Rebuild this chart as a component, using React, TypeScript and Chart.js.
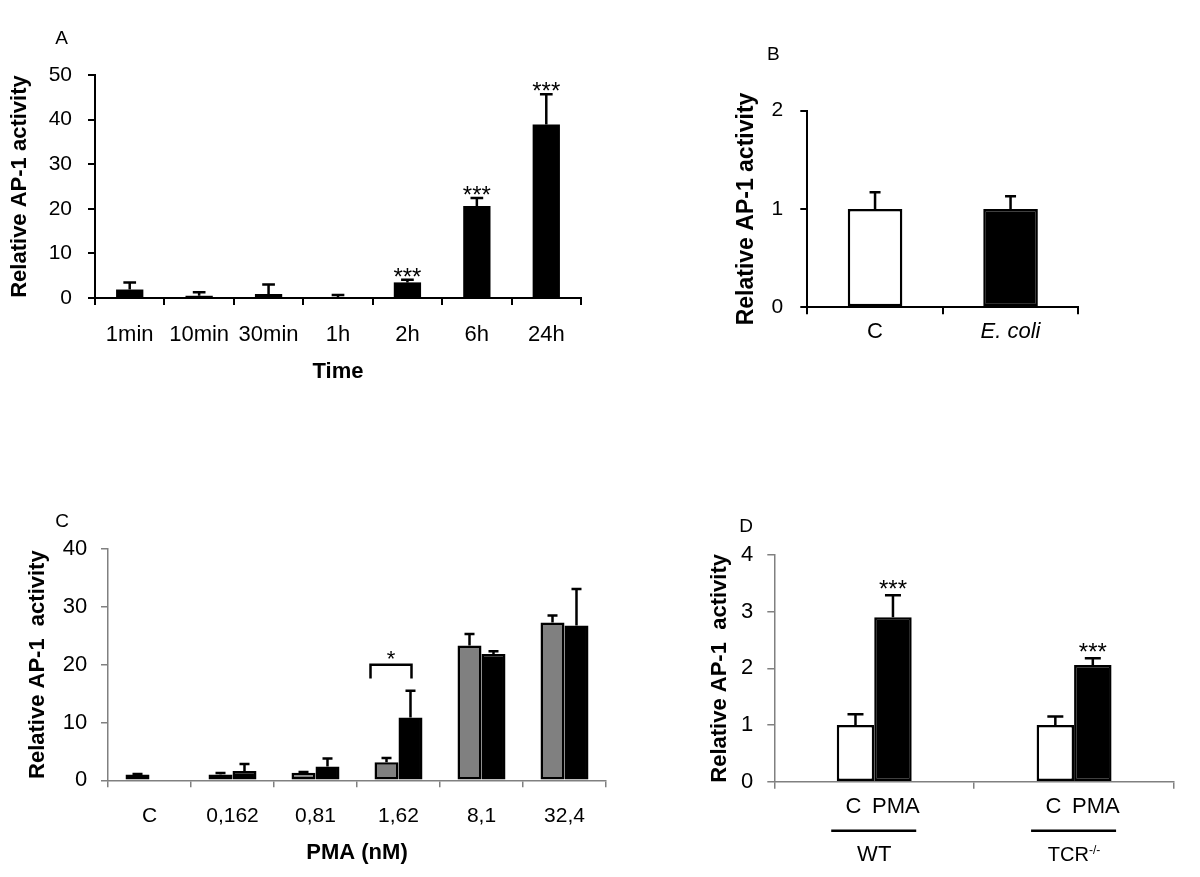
import React, { useEffect, useRef } from 'react';
import { Chart, registerables } from 'chart.js';

Chart.register(...registerables);

const FONT = "'Liberation Sans', Arial, Helvetica, sans-serif";

// ---------- Panel A : time course ----------
const timeLabels = ['1min', '10min', '30min', '1h', '2h', '6h', '24h'];
const timeValues = [1.9, 0.5, 0.9, 0.2, 3.5, 20.6, 38.9];
const timeErrors = [1.6, 0.8, 2.1, 0.5, 0.6, 1.8, 6.8];
const timeStars = ['', '', '', '', '***', '***', '***'];

// ---------- Panel B : E. coli ----------
const ecoliLabels = ['C', 'E. coli'];
const ecoliItalic = [false, true];
const ecoliValues = [1.0, 1.0];
const ecoliErrors = [0.17, 0.13];

// ---------- Panel C : PMA dose ----------
const pmaLabels = ['C', '0,162', '0,81', '1,62', '8,1', '32,4'];
const pmaGrey = [1.0, 1.0, 1.3, 3.1, 23.3, 27.3];
const pmaGreyErrors = [0.1, 0.25, 0.15, 0.75, 2.0, 1.2];
const pmaBlack = [null, 1.6, 2.4, 10.85, 21.85, 26.75];
const pmaBlackErrors = [null, 1.2, 1.35, 4.65, 0.45, 6.35];
const pmaBracketIndex = 3;
const pmaBracketTop = 20;
const pmaBracketLeg = 17.6;
const pmaBracketLabel = '*';
const pmaBracketLabelY = 22;

// ---------- Panel D : WT vs TCR-/- ----------
const dGroups = ['WT', 'TCR'];
const dGroupSup = ['', '-/-'];
const dSeriesNames = ['C', 'PMA'];
const dControl = [1.0, 1.0];
const dControlErrors = [0.19, 0.15];
const dPma = [2.9, 2.06];
const dPmaErrors = [0.39, 0.12];
const dPmaStars = ['***', '***'];

const GREY = '#808080';

const errorBarPlugin = {
  id: 'errorBars',
  afterDatasetsDraw(chart: any, _args: any, opts: any) {
    const ctx = chart.ctx;
    const ys = chart.scales.y;
    chart.data.datasets.forEach((ds: any, di: number) => {
      if (!ds.errors) return;
      const meta = chart.getDatasetMeta(di);
      meta.data.forEach((bar: any, i: number) => {
        const v = ds.data[i];
        const e = ds.errors[i];
        if (v == null || e == null) return;
        const yBar = ys.getPixelForValue(v);
        const yTop = ys.getPixelForValue(v + e);
        ctx.save();
        ctx.strokeStyle = '#000';
        ctx.lineWidth = opts.lineWidth;
        ctx.beginPath();
        ctx.moveTo(bar.x, yBar);
        ctx.lineTo(bar.x, yTop);
        ctx.moveTo(bar.x - opts.cap / 2, yTop);
        ctx.lineTo(bar.x + opts.cap / 2, yTop);
        ctx.stroke();
        if (ds.stars && ds.stars[i]) {
          ctx.fillStyle = '#000';
          ctx.font = `${opts.starSize}px ${FONT}`;
          ctx.textAlign = 'center';
          ctx.textBaseline = 'alphabetic';
          ctx.fillText(ds.stars[i], bar.x, yTop - opts.starGap + opts.starSize * 0.58);
        }
        ctx.restore();
      });
    });
  },
};

const letterPlugin = {
  id: 'panelLetter',
  afterDraw(chart: any, _args: any, opts: any) {
    const ctx = chart.ctx;
    ctx.save();
    ctx.fillStyle = '#000';
    ctx.font = `${opts.size}px ${FONT}`;
    ctx.textAlign = 'center';
    ctx.textBaseline = 'middle';
    ctx.fillText(opts.text, opts.x, opts.y);
    ctx.restore();
  },
};

const bracketPlugin = {
  id: 'bracket',
  afterDatasetsDraw(chart: any) {
    const ctx = chart.ctx;
    const ys = chart.scales.y;
    const b0 = chart.getDatasetMeta(0).data[pmaBracketIndex];
    const b1 = chart.getDatasetMeta(1).data[pmaBracketIndex];
    const xl = b0.x - b0.width / 2 - 4;
    const xr = b1.x + 1;
    const yt = ys.getPixelForValue(pmaBracketTop);
    const yl = ys.getPixelForValue(pmaBracketLeg);
    ctx.save();
    ctx.strokeStyle = '#000';
    ctx.lineWidth = 2.5;
    ctx.beginPath();
    ctx.moveTo(xl, yl);
    ctx.lineTo(xl, yt);
    ctx.lineTo(xr, yt);
    ctx.lineTo(xr, yl);
    ctx.stroke();
    ctx.fillStyle = '#000';
    ctx.font = `22px ${FONT}`;
    ctx.textAlign = 'center';
    ctx.textBaseline = 'alphabetic';
    ctx.fillText(pmaBracketLabel, (xl + xr) / 2, ys.getPixelForValue(pmaBracketLabelY) + 22 * 0.58);
    ctx.restore();
  },
};

const groupLabelPlugin = {
  id: 'groupLabels',
  afterDraw(chart: any) {
    const ctx = chart.ctx;
    const xs = chart.scales.x;
    const y0 = chart.chartArea.bottom;
    ctx.save();
    ctx.fillStyle = '#000';
    ctx.strokeStyle = '#000';
    dGroups.forEach((g, i) => {
      const m0 = chart.getDatasetMeta(0).data[i];
      const m1 = chart.getDatasetMeta(1).data[i];
      ctx.font = `22px ${FONT}`;
      ctx.textAlign = 'center';
      ctx.textBaseline = 'middle';
      ctx.fillText(dSeriesNames[0], m0.x - 2, y0 + 25);
      ctx.fillText(dSeriesNames[1], m1.x + 3, y0 + 25);
      const cx = xs.getPixelForValue(i);
      ctx.lineWidth = 2.5;
      ctx.beginPath();
      ctx.moveTo(cx - 43, y0 + 49);
      ctx.lineTo(cx + 42, y0 + 49);
      ctx.stroke();
      const sup = dGroupSup[i];
      const mainSize = sup ? 20 : 22;
      ctx.font = `${mainSize}px ${FONT}`;
      const wMain = ctx.measureText(g).width;
      ctx.font = `12px ${FONT}`;
      const wSup = sup ? ctx.measureText(sup).width : 0;
      const startX = cx - (wMain + wSup) / 2;
      ctx.textAlign = 'left';
      ctx.textBaseline = 'alphabetic';
      const base = y0 + 71.6 + mainSize * 0.36;
      ctx.font = `${mainSize}px ${FONT}`;
      ctx.fillText(g, startX, base);
      if (sup) {
        ctx.font = `12px ${FONT}`;
        ctx.fillText(sup, startX + wMain, base - 7);
      }
    });
    ctx.restore();
  },
};

function yAxis(o: any) {
  return {
    min: o.min,
    max: o.max,
    ticks: { stepSize: o.step, color: '#000', padding: o.tickPad, font: { family: FONT, size: o.tickSize } },
    grid: { drawOnChartArea: false, drawTicks: true, tickLength: 7, color: o.color, lineWidth: o.lw },
    border: { color: o.color, width: o.lw },
    title: {
      display: true,
      text: o.title,
      color: '#000',
      font: { family: FONT, size: o.titleSize, weight: 'bold', lineHeight: 1 },
      padding: { top: o.titlePad, bottom: 0 },
    },
    afterFit(s: any) {
      s.width = o.width;
    },
  };
}

function xAxis(o: any) {
  return {
    type: 'category',
    offset: true,
    ticks: {
      display: o.showTicks !== false,
      color: '#000',
      padding: o.tickPad,
      autoSkip: false,
      maxRotation: 0,
      font: o.font,
    },
    grid: { offset: true, drawOnChartArea: false, drawTicks: true, tickLength: 7, color: o.color, lineWidth: o.lw },
    border: { color: o.color, width: o.lw },
    title: o.title
      ? {
          display: true,
          text: o.title,
          color: '#000',
          font: { family: FONT, size: 22, weight: 'bold', lineHeight: 1 },
          padding: { top: 0, bottom: o.titlePad },
        }
      : { display: false },
    afterFit(s: any) {
      s.height = o.height;
    },
  };
}

function baseOptions(padding: any, extraPlugins: any) {
  return {
    responsive: false,
    maintainAspectRatio: false,
    devicePixelRatio: 1,
    animation: false,
    layout: { padding },
    plugins: { legend: { display: false }, tooltip: { enabled: false }, ...extraPlugins },
  };
}

const panels = [
  {
    box: { x: 0, y: 20, w: 600, h: 370 },
    make: () => ({
      type: 'bar',
      data: {
        labels: timeLabels,
        datasets: [
          {
            data: timeValues,
            errors: timeErrors,
            stars: timeStars,
            backgroundColor: '#000',
            borderWidth: 0,
            barPercentage: 0.393,
            categoryPercentage: 1,
          },
        ],
      },
      options: {
        ...baseOptions({ left: 0, top: 55, right: 19, bottom: 0 }, {
          errorBars: { lineWidth: 2.5, cap: 12.7, starSize: 24, starGap: 9 },
          panelLetter: { text: 'A', x: 61.7, y: 18.3, size: 19 },
        }),
        scales: {
          x: xAxis({ height: 92, tickPad: 16.8, color: '#000', lw: 2, font: { family: FONT, size: 22 }, title: 'Time', titlePad: 7 }),
          y: yAxis({ min: 0, max: 50, step: 10, tickPad: 16, tickSize: 21, color: '#000', lw: 2, title: 'Relative AP-1 activity', titleSize: 22, titlePad: 9, width: 95 }),
        },
      },
      plugins: [errorBarPlugin, letterPlugin],
    }),
  },
  {
    box: { x: 690, y: 40, w: 420, h: 330 },
    make: () => ({
      type: 'bar',
      data: {
        labels: ecoliLabels,
        datasets: [
          {
            data: ecoliValues,
            errors: ecoliErrors,
            backgroundColor: ['#ffffff', '#000000'],
            borderColor: '#000',
            borderWidth: 2.5,
            borderSkipped: false,
            barPercentage: 0.403,
            categoryPercentage: 1,
          },
        ],
      },
      options: {
        ...baseOptions({ left: 0, top: 70.7, right: 31.7, bottom: 0 }, {
          errorBars: { lineWidth: 2.5, cap: 11, starSize: 24, starGap: 9 },
          panelLetter: { text: 'B', x: 83.3, y: 15, size: 19 },
        }),
        scales: {
          x: xAxis({
            height: 62.7,
            tickPad: 4.2,
            color: '#000',
            lw: 2,
            font: (c: any) => ({ family: FONT, size: 22, style: ecoliItalic[c.index] ? 'italic' : 'normal' }),
          }),
          y: yAxis({ min: 0, max: 2, step: 1, tickPad: 17, tickSize: 21, color: '#000', lw: 2, title: 'Relative AP-1 activity', titleSize: 23, titlePad: 45.2, width: 117.3 }),
        },
      },
      plugins: [errorBarPlugin, letterPlugin],
    }),
  },
  {
    box: { x: 0, y: 500, w: 640, h: 377 },
    make: () => ({
      type: 'bar',
      data: {
        labels: pmaLabels,
        datasets: [
          {
            data: pmaGrey,
            errors: pmaGreyErrors,
            backgroundColor: pmaLabels.map((_, i) => (i === 0 ? '#ffffff' : GREY)),
            borderColor: '#000',
            borderWidth: 2.5,
            borderSkipped: false,
            barPercentage: 1,
            categoryPercentage: 0.578,
          },
          {
            data: pmaBlack,
            errors: pmaBlackErrors,
            backgroundColor: '#000',
            borderColor: '#000',
            borderWidth: 2.5,
            borderSkipped: false,
            barPercentage: 1,
            categoryPercentage: 0.578,
          },
        ],
      },
      options: {
        ...baseOptions({ left: 0, top: 49, right: 34, bottom: 0 }, {
          errorBars: { lineWidth: 2.5, cap: 10, starSize: 24, starGap: 9 },
          panelLetter: { text: 'C', x: 62, y: 22, size: 19 },
        }),
        scales: {
          x: xAxis({ height: 96.7, tickPad: 16.8, color: GREY, lw: 1.5, font: { family: FONT, size: 21 }, title: 'PMA (nM)', titlePad: 12.7 }),
          y: yAxis({ min: 0, max: 40, step: 10, tickPad: 13.7, tickSize: 22, color: GREY, lw: 1.5, title: 'Relative AP-1  activity', titleSize: 22, titlePad: 26.6, width: 108 }),
        },
      },
      plugins: [errorBarPlugin, bracketPlugin, letterPlugin],
    }),
  },
  {
    box: { x: 690, y: 500, w: 510, h: 377 },
    make: () => ({
      type: 'bar',
      data: {
        labels: dGroups,
        datasets: [
          {
            data: dControl,
            errors: dControlErrors,
            backgroundColor: '#ffffff',
            borderColor: '#000',
            borderWidth: 2.5,
            borderSkipped: false,
            barPercentage: 1,
            categoryPercentage: 0.375,
          },
          {
            data: dPma,
            errors: dPmaErrors,
            stars: dPmaStars,
            backgroundColor: '#000',
            borderColor: '#000',
            borderWidth: 2.5,
            borderSkipped: false,
            barPercentage: 1,
            categoryPercentage: 0.375,
          },
        ],
      },
      options: {
        ...baseOptions({ left: 0, top: 55, right: 26, bottom: 0 }, {
          errorBars: { lineWidth: 2.5, cap: 16, starSize: 24, starGap: 12 },
          panelLetter: { text: 'D', x: 56, y: 27, size: 19 },
        }),
        scales: {
          x: xAxis({ height: 95.3, showTicks: false, tickPad: 0, color: GREY, lw: 1.5, font: { family: FONT, size: 22 } }),
          y: yAxis({ min: 0, max: 4, step: 1, tickPad: 14, tickSize: 22, color: GREY, lw: 1.5, title: 'Relative AP-1  activity', titleSize: 22, titlePad: 19, width: 84.3 }),
        },
      },
      plugins: [errorBarPlugin, groupLabelPlugin, letterPlugin],
    }),
  },
];

function Panel({ box, make }: { box: any; make: () => any }) {
  const ref = useRef<HTMLCanvasElement>(null);
  useEffect(() => {
    const chart = new Chart(ref.current as HTMLCanvasElement, make());
    return () => chart.destroy();
  }, []);
  return (
    <canvas
      ref={ref}
      width={box.w}
      height={box.h}
      style={{ position: 'absolute', left: box.x, top: box.y, width: box.w, height: box.h }}
    />
  );
}

export default function App() {
  return (
    <div style={{ position: 'absolute', left: 0, top: 0, width: 1200, height: 877, background: '#fff', overflow: 'hidden' }}>
      {panels.map((p, i) => (
        <Panel key={i} box={p.box} make={p.make} />
      ))}
    </div>
  );
}
